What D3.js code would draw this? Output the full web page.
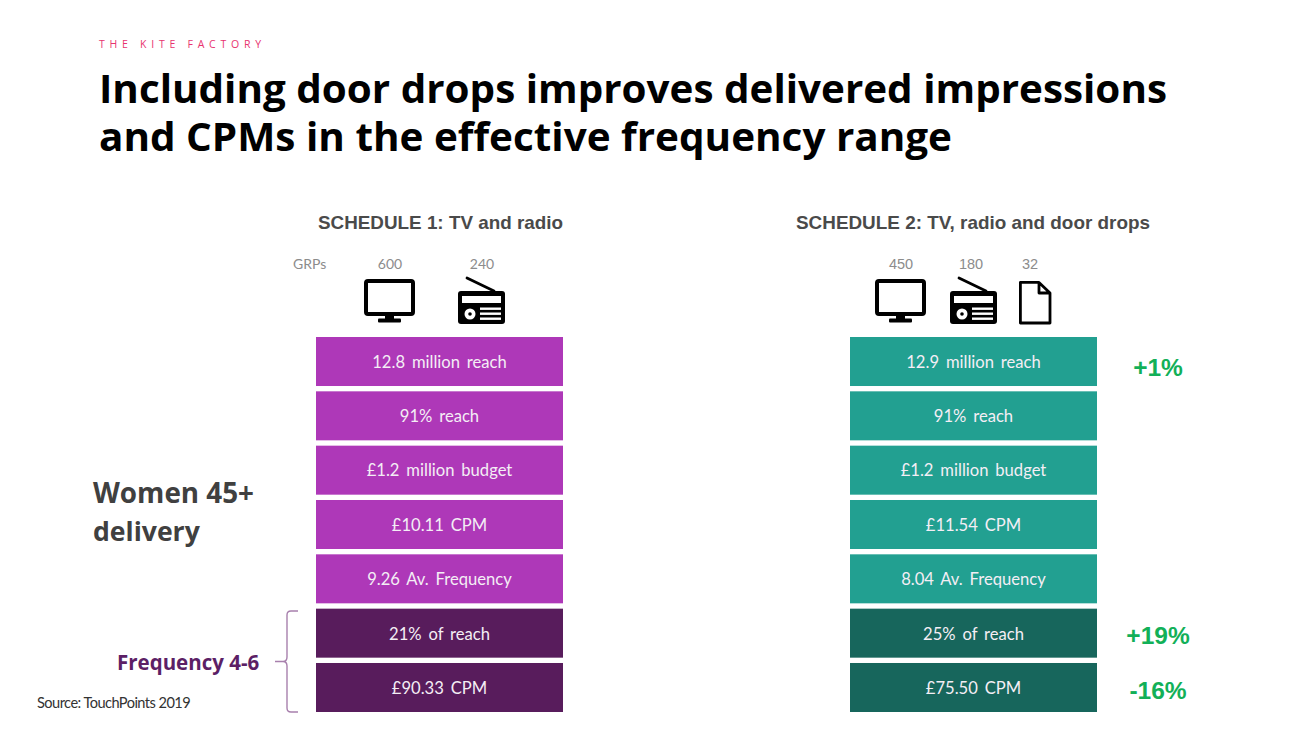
<!DOCTYPE html>
<html><head><meta charset="utf-8">
<script src="https://cdn.jsdelivr.net/npm/d3@7"></script>
<style>html,body{margin:0;padding:0;background:#fff}svg{display:block}text{font-family:"Open Sans",sans-serif}</style>
</head><body><svg id="c" width="1299" height="729"></svg>
<script>
const rows = ["reach","reachPct","budget","cpm","frequency","freqReach","freqCpm"];
const schedule1Labels = ["12.8 million reach","91% reach","£1.2 million budget","£10.11 CPM","9.26 Av. Frequency","21% of reach","£90.33 CPM"];
const schedule2Labels = ["12.9 million reach","91% reach","£1.2 million budget","£11.54 CPM","8.04 Av. Frequency","25% of reach","£75.50 CPM"];
const changeRows = ["reach","freqReach","freqCpm"];
const changeLabels = ["+1%","+19%","-16%"];
const darkRows = ["freqReach","freqCpm"];
const grps1 = ["600","240"];
const grps2 = ["450","180","32"];

const svg = d3.select("#c");
const y = d3.scaleBand().domain(rows).range([337,712]).paddingInner(0.098).paddingOuter(0);
const lato='Lato,sans-serif', arial='"Liberation Sans",sans-serif';

function txt(x,y,s,size,fill,weight,anchor){
  return svg.append("text").attr("x",x).attr("y",y).text(s).attr("font-size",size).attr("fill",fill)
    .attr("font-weight",weight||400).attr("text-anchor",anchor||"start");
}
txt(99,48,"THE KITE FACTORY",10.5,"#e8336f").attr("letter-spacing",4.75);
txt(99,103,"Including door drops improves delivered impressions",39,"#000",700).attr("textLength",1068).attr("lengthAdjust","spacingAndGlyphs");
txt(99,151,"and CPMs in the effective frequency range",39,"#000",700).attr("textLength",853).attr("lengthAdjust","spacingAndGlyphs");

txt(318,229,"SCHEDULE 1: TV and radio",18.2,"#4a4a4a",700).style("font-family",arial).attr("textLength",245).attr("lengthAdjust","spacingAndGlyphs");
txt(796,229,"SCHEDULE 2: TV, radio and door drops",18.2,"#4a4a4a",700).style("font-family",arial).attr("textLength",354).attr("lengthAdjust","spacingAndGlyphs");
txt(293,269,"GRPs",14,"#8c8c8c").style("font-family",lato);
const grpX1=[390,482], grpX2=[901,971,1030];
grps1.forEach((t,i)=>txt(grpX1[i],269,t,14,"#8c8c8c",400,"middle").style("font-family",lato));
grps2.forEach((t,i)=>txt(grpX2[i],269,t,14.5,"#8c8c8c",400,"middle").style("font-family",arial));

function panel(labels,x0,w,light,dark){
  const g = svg.append("g");
  g.selectAll("rect").data(rows).join("rect").attr("x",x0).attr("width",w)
    .attr("y",d=>y(d)).attr("height",y.bandwidth())
    .attr("fill",d=>darkRows.includes(d)?dark:light);
  g.selectAll("text").data(rows).join("text").attr("x",x0+w/2)
    .attr("y",d=>y(d)+y.bandwidth()/2+(darkRows.includes(d)?7:6.3)).attr("text-anchor","middle")
    .style("font-family",lato).attr("font-size",16.6).attr("word-spacing",2.6).attr("fill","#f4eef5").text((d,i)=>labels[i]);
}
panel(schedule1Labels,316,247,"#ae38b8","#581c5c");
panel(schedule2Labels,850,247,"#22a091","#17665c");

const changeDy=[14,10.5,11.5];
changeRows.forEach((r,i)=>txt(1158,y(r)+y.bandwidth()/2+changeDy[i],changeLabels[i],24.5,"#12b058",700,"middle").style("font-family",arial));

txt(93,503,"Women 45+",27.8,"#404040",700);
txt(93,541,"delivery",26.6,"#404040",700);
txt(117,670,"Frequency 4-6",20.5,"#5c1f66",700);
txt(37,708,"Source: TouchPoints 2019",14.6,"#333").attr("letter-spacing",-0.55).style("font-family",lato);

svg.append("path").attr("d","M298 611 H291 Q287 611 287 615 V657 Q287 661.5 283 661.5 H275 M283 661.5 Q287 661.5 287 666 V708 Q287 712 291 712 H298")
  .attr("fill","none").attr("stroke","#a880ad").attr("stroke-width",1.4);

function tv(x,y){
  const g=svg.append("g").attr("transform",`translate(${x},${y})`);
  g.append("rect").attr("x",2).attr("y",2).attr("width",47).attr("height",33).attr("rx",2).attr("fill","#fff").attr("stroke","#000").attr("stroke-width",4);
  g.append("rect").attr("x",21).attr("y",36).attr("width",9).attr("height",5).attr("fill","#000");
  g.append("rect").attr("x",14).attr("y",39.5).attr("width",23).attr("height",4).attr("rx",1).attr("fill","#000");
}
function radio(x,y){
  const g=svg.append("g").attr("transform",`translate(${x},${y})`);
  g.append("path").attr("d","M9 0 L36 13").attr("stroke","#000").attr("stroke-width",2.8).attr("stroke-linecap","round");
  g.append("rect").attr("x",0).attr("y",13).attr("width",47).attr("height",33).attr("rx",3).attr("fill","#000");
  g.append("rect").attr("x",4).attr("y",18).attr("width",39).attr("height",7).attr("fill","#fff");
  g.append("circle").attr("cx",12).attr("cy",36).attr("r",5.5).attr("fill","#fff");
  g.append("circle").attr("cx",12).attr("cy",36).attr("r",1.8).attr("fill","#000");
  [30,35,40].forEach(v=>g.append("rect").attr("x",22).attr("y",v-0.5).attr("width",21).attr("height",2.4).attr("fill","#fff"));
}
function page(x,y){
  svg.append("path").attr("transform",`translate(${x},${y})`)
    .attr("d","M1.4 1.4 H20 L31 12 V42 H1.4 Z M20 1.4 V12 H31").attr("fill","#fff").attr("stroke","#000").attr("stroke-width",2.8).attr("stroke-linejoin","round");
}
tv(364,279);radio(458,278);
tv(875,279);radio(950,278);page(1019,281);
</script></body></html>
